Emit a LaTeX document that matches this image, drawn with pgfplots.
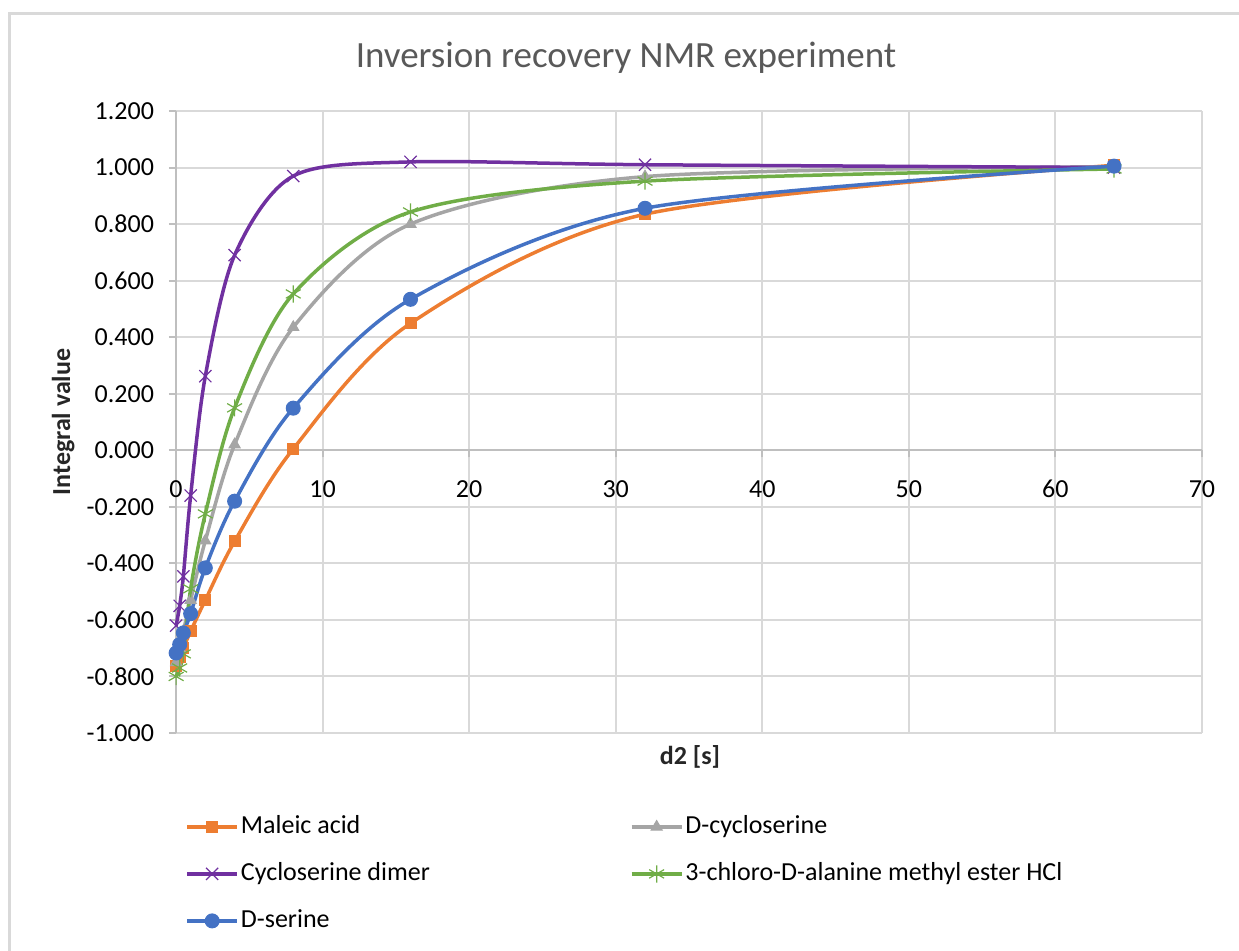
\documentclass[border=0pt]{standalone}
\usepackage{pgfplots}
\pgfplotsset{compat=1.18}
\usepackage{fontspec}
\setmainfont{Carlito}
\definecolor{corange}{HTML}{ED7D31}
\definecolor{cgray}{HTML}{A5A5A5}
\definecolor{cpurple}{HTML}{7030A0}
\definecolor{cgreen}{HTML}{70AD47}
\definecolor{cblue}{HTML}{4472C4}
\definecolor{gridgray}{HTML}{D9D9D9}
\definecolor{axisgray}{HTML}{BFBFBF}
\definecolor{titlegray}{HTML}{595959}

\pgfplotstableread{
x y
0.01 -0.764
0.25 -0.730
0.5 -0.700
1 -0.640
2 -0.530
4 -0.322
8 0.005
16 0.449
32 0.835
64 1.008
}\maleic
\pgfplotstableread{
x y
0.01 -0.750
0.25 -0.700
0.5 -0.640
1 -0.530
2 -0.320
4 0.020
8 0.435
16 0.800
32 0.968
64 1.003
}\dcyclo
\pgfplotstableread{
x y
0.01 -0.620
0.25 -0.550
0.5 -0.446
1 -0.160
2 0.262
4 0.690
8 0.970
16 1.020
32 1.010
64 1.000
}\dimer
\pgfplotstableread{
x y
0.01 -0.800
0.25 -0.770
0.5 -0.720
1 -0.490
2 -0.225
4 0.150
8 0.553
16 0.843
32 0.952
64 0.995
}\chloro
\pgfplotstableread{
x y
0.01 -0.717
0.25 -0.687
0.5 -0.646
1 -0.578
2 -0.416
4 -0.180
8 0.149
16 0.534
32 0.856
64 1.005
}\dserine

\begin{document}
\begin{tikzpicture}
\path[use as bounding box] (-88pt,-108.5pt) rectangle (531.5pt,366.5pt);
\draw[draw=gridgray, line width=1.5pt] (-83pt,-110pt) -- (-83pt,360pt) -- (535pt,360pt);
\begin{axis}[
  at={(0pt,0pt)}, anchor=south west,
  width=513pt, height=311pt, scale only axis,
  xmin=0, xmax=70, ymin=-1, ymax=1.2,
  axis x line=middle, axis y line=left,
  axis line style={-, draw=axisgray, line width=1pt},
  xtick={0,10,20,30,40,50,60,70},
  xticklabels={0,10,20,30,40,50,60,70},
  ytick={-1,-0.8,-0.6,-0.4,-0.2,0,0.2,0.4,0.6,0.8,1,1.2},
  yticklabels={-1.000,-0.800,-0.600,-0.400,-0.200,0.000,0.200,0.400,0.600,0.800,1.000,1.200},
  grid=major, major grid style={draw=gridgray, line width=1pt},
  tick align=outside, major tick length=3.5pt,
  tick style={draw=axisgray, line width=1pt},
  hide obscured x ticks=false,
  tick label style={font=\fontsize{13}{15}\selectfont, text=black},
  xticklabel style={yshift=-8pt},
  yticklabel style={xshift=-4pt},
  xlabel={d2 [s]}, ylabel={Integral value},
  label style={font=\fontsize{13}{15}\selectfont\bfseries, text=black!85},
  xlabel style={at={(axis description cs:0.501,-0.0386)}, anchor=center},
  ylabel style={at={(axis description cs:-0.110,0.5)}, anchor=center},
  title={Inversion recovery NMR experiment},
  title style={at={(axis description cs:0.4386,1.066)}, anchor=center, font=\fontsize{18.5}{22}\selectfont, text=titlegray},
  legend columns=2,
  legend cell align=left,
  legend style={at={(axis description cs:0.0088,-0.127)}, anchor=north west, draw=none, fill=none, inner sep=0pt,
    font=\fontsize{13}{15}\selectfont,
    nodes={inner sep=1pt, text height=9.5pt, text depth=3pt},
    row sep=9pt,
    /tikz/every even column/.append style={column sep=99pt}},
  legend image code/.code={\draw[mark repeat=2,mark phase=2] plot coordinates {(0pt,0pt) (12.5pt,0pt) (25pt,0pt)};},
  clip=false,
  every axis plot/.append style={line width=1.75pt, smooth},
]
\addplot[color=corange, mark=square*, mark size=2.75pt, mark options={solid, line width=0.5pt}] table {\maleic};
\addlegendentry{Maleic acid}
\addplot[color=cgray, mark=triangle*, mark size=3.2pt, mark options={solid, line width=0.5pt}] table {\dcyclo};
\addlegendentry{D-cycloserine}
\addplot[color=cpurple, mark=x, mark size=4.3pt, mark options={solid, line width=0.6pt}] table {\dimer};
\addlegendentry{Cycloserine dimer}
\addplot[color=cgreen, mark=asterisk, mark size=4.3pt, mark options={solid, line width=0.6pt}] table {\chloro};
\addlegendentry{3-chloro-D-alanine methyl ester HCl}
\addplot[color=cblue, mark=*, mark size=3.5pt, mark options={solid, line width=0.5pt}] table {\dserine};
\addlegendentry{D-serine}
\end{axis}
\end{tikzpicture}
\end{document}
